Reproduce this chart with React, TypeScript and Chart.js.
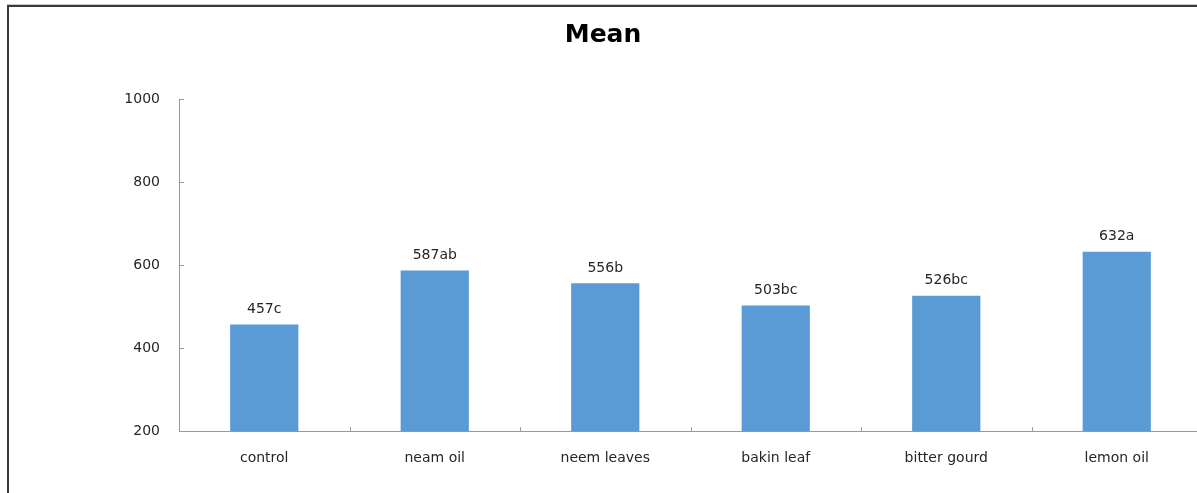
import React, { useEffect, useRef } from "react";
import { Chart, registerables } from "chart.js";

Chart.register(...registerables);

const categories = ["control", "neam oil", "neem leaves", "bakin leaf", "bitter gourd", "lemon oil"];
const meanValues = [457, 587, 556, 503, 526, 632];
const significanceLetters = ["c", "ab", "b", "bc", "bc", "a"];
const yTicks = [200, 400, 600, 800, 1000];
const chartTitle = "Mean";

const FONT = "'DejaVu Sans', Verdana, sans-serif";
const VIEW_W = 1197;

const framePlugin = {
  id: "frame",
  beforeDraw(chart: any) {
    const ctx = chart.ctx;
    ctx.save();
    ctx.fillStyle = "#ffffff";
    ctx.fillRect(0, 0, chart.width, chart.height);
    ctx.fillStyle = "#c8c8c8";
    ctx.fillRect(7, 4, VIEW_W - 7, 1);
    ctx.fillStyle = "#3a3a3a";
    ctx.fillRect(7, 5, VIEW_W - 7, 2);
    ctx.fillRect(7, 5, 2, chart.height - 5);
    // title
    ctx.fillStyle = "#000000";
    ctx.font = `bold 25px ${FONT}`;
    ctx.textAlign = "center";
    ctx.textBaseline = "middle";
    ctx.fillText(chartTitle, 603, 35);
    ctx.restore();
  },
};

const ticksPlugin = {
  id: "innerTicks",
  afterDraw(chart: any) {
    const ctx = chart.ctx;
    const x = chart.scales.x;
    const y = chart.scales.y;
    const area = chart.chartArea;
    ctx.save();
    ctx.strokeStyle = "#9a9a9a";
    ctx.lineWidth = 1;
    ctx.beginPath();
    y.ticks.forEach((t: any) => {
      const py = Math.round(y.getPixelForValue(t.value)) + 0.5;
      ctx.moveTo(area.left, py);
      ctx.lineTo(area.left + 5, py);
    });
    for (let i = 1; i < categories.length; i++) {
      const px = Math.round((x.getPixelForValue(i - 1) + x.getPixelForValue(i)) / 2) + 0.5;
      ctx.moveTo(px, area.bottom);
      ctx.lineTo(px, area.bottom - 4);
    }
    ctx.stroke();
    ctx.restore();
  },
};

const labelPlugin = {
  id: "barLabels",
  afterDatasetsDraw(chart: any) {
    const ctx = chart.ctx;
    const meta = chart.getDatasetMeta(0);
    ctx.save();
    ctx.font = `14px ${FONT}`;
    ctx.fillStyle = "#262626";
    ctx.textAlign = "center";
    ctx.textBaseline = "middle";
    meta.data.forEach((bar: any, i: number) => {
      ctx.fillText(`${meanValues[i]}${significanceLetters[i]}`, bar.x, bar.y - 15);
    });
    ctx.restore();
  },
};

export default function App() {
  const ref = useRef<HTMLCanvasElement>(null);
  useEffect(() => {
    document.body.style.margin = "0";
    const chart = new Chart(ref.current as HTMLCanvasElement, {
      type: "bar",
      data: {
        labels: categories,
        datasets: [
          {
            data: meanValues,
            backgroundColor: "#5B9BD5",
            borderWidth: 0,
            categoryPercentage: 1,
            barPercentage: 0.4,
          },
        ],
      },
      options: {
        responsive: false,
        animation: false,
        devicePixelRatio: 1,
        layout: { padding: { left: 0, right: 0, top: 99, bottom: 7 } },
        plugins: {
          legend: { display: false },
          tooltip: { enabled: false },
          title: { display: false },
        },
        scales: {
          x: {
            grid: { display: false, drawTicks: false },
            border: { display: true, color: "#9a9a9a", width: 1 },
            ticks: {
              color: "#262626",
              font: { family: FONT, size: 14 },
              padding: 19,
              maxRotation: 0,
              autoSkip: false,
            },
          },
          y: {
            min: 200,
            max: 1000,
            afterBuildTicks(scale: any) {
              scale.ticks = yTicks.map((v) => ({ value: v }));
            },
            afterFit(scale: any) {
              scale.width = 179;
            },
            grid: { display: false, drawTicks: false },
            border: { display: true, color: "#9a9a9a", width: 1 },
            ticks: {
              color: "#262626",
              font: { family: FONT, size: 14 },
              padding: 19,
              callback: (v: any) => String(v),
            },
          },
        },
      },
      plugins: [framePlugin, ticksPlugin, labelPlugin],
    });
    return () => chart.destroy();
  }, []);

  return (
    <div style={{ width: VIEW_W, height: 493, overflow: "hidden" }}>
      <canvas ref={ref} width={1202} height={493} style={{ display: "block" }} />
    </div>
  );
}
